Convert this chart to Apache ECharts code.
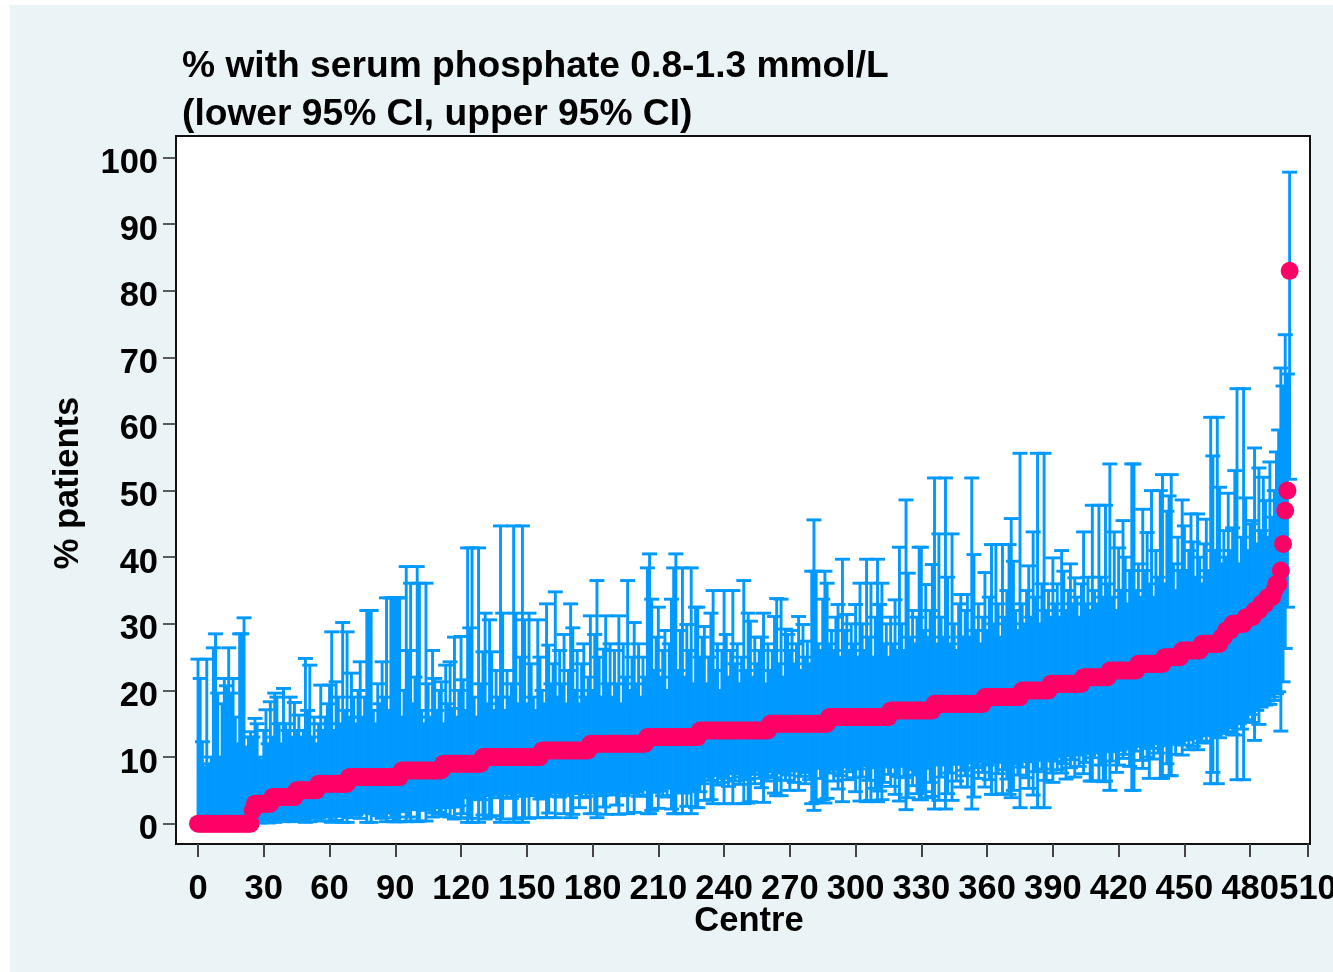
<!DOCTYPE html>
<html>
<head>
<meta charset="utf-8">
<title>Serum phosphate by centre</title>
<script src="https://cdn.jsdelivr.net/npm/echarts@6/dist/echarts.min.js"></script>
<style>
    html, body { margin: 0; padding: 0; background: #ffffff; overflow: hidden; }
    #panel { position: absolute; left: 10px; top: 5px; width: 1323px; height: 967px; background: #eaf4f6; }
    #chart { position: absolute; left: 0; top: 0; width: 1333px; height: 972px; }
</style>
</head>
<body>
<div id="panel"></div>
<div id="chart"></div>
<script>
// Values, one entry per centre, ten per line
const median = [
    0,0,0,0,0,0,0,0,0,0,
    0,0,0,0,0,0,0,0,0,0,
    0,0,0,0,0,2,3,3,3,3,
    3,3,3,3,4,4,4,4,4,4,
    4,4,4,4,4,5,5,5,5,5,
    5,5,5,5,5,6,6,6,6,6,
    6,6,6,6,6,6,6,6,6,7,
    7,7,7,7,7,7,7,7,7,7,
    7,7,7,7,7,7,7,7,7,7,
    7,7,7,8,8,8,8,8,8,8,
    8,8,8,8,8,8,8,8,8,8,
    8,8,9,9,9,9,9,9,9,9,
    9,9,9,9,9,9,9,9,9,9,
    10,10,10,10,10,10,10,10,10,10,
    10,10,10,10,10,10,10,10,10,10,
    10,10,10,10,10,10,10,11,11,11,
    11,11,11,11,11,11,11,11,11,11,
    11,11,11,11,11,11,11,11,11,12,
    12,12,12,12,12,12,12,12,12,12,
    12,12,12,12,12,12,12,12,12,12,
    12,12,12,12,12,13,13,13,13,13,
    13,13,13,13,13,13,13,13,13,13,
    13,13,13,13,13,13,13,13,13,14,
    14,14,14,14,14,14,14,14,14,14,
    14,14,14,14,14,14,14,14,14,14,
    14,14,14,14,14,14,14,14,14,14,
    14,15,15,15,15,15,15,15,15,15,
    15,15,15,15,15,15,15,15,15,15,
    15,15,15,15,15,15,15,15,16,16,
    16,16,16,16,16,16,16,16,16,16,
    16,16,16,16,16,16,16,16,16,16,
    16,16,16,16,16,16,17,17,17,17,
    17,17,17,17,17,17,17,17,17,17,
    17,17,17,17,17,17,18,18,18,18,
    18,18,18,18,18,18,18,18,18,18,
    18,18,18,18,18,18,18,18,18,19,
    19,19,19,19,19,19,19,19,19,19,
    19,19,19,19,19,19,20,20,20,20,
    20,20,20,20,20,20,20,20,20,21,
    21,21,21,21,21,21,21,21,21,21,
    21,21,21,21,22,22,22,22,22,22,
    22,22,22,22,22,22,23,23,23,23,
    23,23,23,23,23,23,23,23,23,24,
    24,24,24,24,24,24,24,24,24,24,
    24,25,25,25,25,25,25,25,25,26,
    26,26,26,26,26,26,26,26,27,27,
    27,27,27,27,27,27,27,28,28,29,
    29,29,30,30,30,30,30,30,31,31,
    31,31,32,32,32,33,33,33,34,34,
    34,35,36,36,38,42,47,50,83
];

const upper = [
    24.7,21.8,12.3,8.5,24.7,9,10,26.4,28.5,19.6,
    10,18,21.8,20.7,26.4,19.6,21.8,16,12,28.5,
    28.5,30.9,11.5,13,13.8,13,15.8,15,10,9.5,
    14,17.1,12,18.3,13,19.6,19,15,12,20.3,
    15,14,19,13,18.2,14,16.3,13,14,24.8,
    17,23.8,13,16,12,15,20.8,14,16,18,
    20.8,28.8,14,21.3,19,15,30.2,17,28.8,16,
    22.6,19,15,20,24.3,16,19,32,32,32,
    17,15,21,18,24.3,19,33.9,17,33.9,33.9,
    33.9,33.9,33.9,16,20,38.6,26,36.1,18,22,
    38.6,36.1,17,15,36.1,21,16,26,21.8,17,
    20,21.3,15,23.8,18,24.3,17.3,28,16,20,
    28.1,21.6,17,41.4,29.4,41.4,19,16,41.4,21,
    25.8,31.6,18,30.6,25.8,17,23,19,44.7,31.6,
    17,23,19,21,44.7,31.6,18,25,44.7,30.6,
    18,31.6,24,19,17,30.6,25,20,18,33,
    26.8,21,24,34.8,19,26,21,28.4,18,23,
    33,29.4,20,26,18,24,27,19,22,31.2,
    20,28.4,36.5,25,19,26.2,31.2,21,27,19,
    26,21,31.2,18,27,22,36.5,20,25,30.2,
    21,27,19,25,22,38.4,40.5,33.7,23,28,
    32.5,22,26,29,20,27,33.7,38.4,40.5,23,
    29,38.4,22,29.9,26,38.4,21,32.5,32.5,25,
    28,29.6,21,25,31.6,35,23,27,20,26,
    35,28.4,22,26,35,24,27,21,25,36.5,
    23,31.6,30.4,22,28,24,26,28,31.6,21,
    27,23,26,31.1,33.8,24,33.7,22,29.2,28.4,
    26,29,24,27,31.1,23,29.9,25,27.4,24,
    37.9,45.6,37.9,27,26,33.7,37.9,36.1,27,29,
    26,31,32.9,25,39.7,29,31.4,26,30,27,
    32.9,25,36.1,30,26,39.7,28,36.1,25,31,
    39.7,32.9,36.1,27,30,25,31,27,33.6,26,
    41.5,30,26,48.6,37.6,28,32,27,31,41.5,
    41.5,29,35.9,28,32,38.9,51.9,27,43.5,31,
    28,51.9,37,27,43.5,30,26,33,34.4,28,
    32,34.4,28,51.9,40.4,29,33,27,31,37.7,
    29,34,41.9,30,41.9,33,28,41.9,31,35,
    41.9,45.8,39.4,32,29,55.6,33,30,35,38.7,
    31,43.8,34,55.6,30,36,55.6,32,35,31,
    39.9,33,36,31,41,37.9,32,35,39,33,
    36.9,34,31,36,43.8,33,37,32,47.8,35,
    33,47.8,37,34,47.8,36,54,34,43.8,32,
    41.4,35,45.5,40,33,38,54,54,35,39,
    34,47.2,38,43.7,36,50,34,41,37,50,
    52.4,36,46.9,49.2,52.4,39,35,43,38,48.6,
    44.7,38,41,46.5,42.3,37,46.5,40,36,42,
    45.7,38,61,55.2,41,61,50.5,39,44,40,
    49.6,41,44.4,53,65.3,39,43,65.3,48.9,41,
    45,45.5,56.4,42,53.4,44,52,48.5,43,54.3,
    46,50,55.8,59.1,68.4,65.7,73.4,67.5,97.8
];

const lower = [
    0,0,0,0,0,0,0,0,0,0,
    0,0,0,0,0,0,0,0,0,0,
    0,0,0,0,0,0.1,0.2,0.2,0.1,0.3,
    0.2,0.4,0.1,0.3,0.6,0.2,0.5,0.8,0.4,0.3,
    0.5,0.9,0.4,0.7,0.3,0.8,1,0.5,0.9,0.2,
    1.1,0.3,0.9,1.3,0.8,0.9,0.4,1.2,1.4,1,
    0.4,0.2,1.3,0.5,1.1,1.5,0.2,1.4,0.2,1.6,
    0.9,1.7,1.3,1.8,0.8,1.6,1.9,0.2,1.7,0.2,
    1.5,2,1.2,1.9,0.8,1.8,0.3,1.6,0.9,0.3,
    0.3,0.3,0.3,2,1.8,0.3,1,0.4,2.1,2.2,
    0.3,0.4,2.3,2,0.4,2.2,2.5,1,1.6,2.4,
    1.7,1.4,2.6,1.1,2.4,1,2.8,0.7,2.5,2.7,
    0.9,1.5,3.9,0.2,0.8,0.2,3.8,4.2,0.2,3.6,
    1.3,0.7,4.2,1,1.2,4.4,4.6,3.9,0.2,0.7,
    4.7,4,4.5,3.8,0.2,0.7,4.6,4.1,0.2,0.9,
    4.7,0.8,4.2,4.6,4.8,0.9,3.7,4,4.5,0.9,
    1.6,4.1,4.7,0.9,4.6,4,4.8,1.5,4.2,4.9,
    0.9,1.4,4.5,5,2.4,3.9,4.7,4.1,5.1,1.5,
    4.6,1.5,0.9,4.8,4.2,2.5,1.4,5,5.2,4.3,
    4.7,2.8,1.4,5.2,4.2,4.9,1.5,4.6,5.3,1.7,
    4.8,4.1,5.4,4.3,5.1,1.5,1.5,2,4.7,5.2,
    2.3,4.9,4.2,5.3,4,5.5,2.2,1.5,1.5,4.7,
    5.1,1.5,4.6,2.6,5.4,1.5,5,2.4,2.4,4.8,
    6,3.5,7,6.5,3.6,3,7.2,5.8,7.4,6.2,
    3,6.8,5.6,7.5,3,6.4,7.7,5.9,7,3,
    6.6,3.1,3.3,7.4,6,7.9,6.8,5.4,3.2,7.2,
    6.4,7.8,6.9,4.6,4.2,7.6,4.2,8,6.5,7.3,
    5,7.9,6.2,8,5,7.1,8.2,6,7.7,6.6,
    3,2,3.2,8.3,6.8,3.6,3.1,3.8,7.6,8.4,
    6.4,8.1,5.2,7.2,3.3,8.5,6.6,7.8,8.6,6.9,
    4.8,8.2,3.4,7,8.7,3.3,6.5,3.5,8.4,5.3,
    3.3,4.9,3.6,6.2,8.8,7.4,5.6,8.5,4.4,7.1,
    3.4,8.6,6.9,2.1,3.9,8.1,5.7,7.3,4.5,3.6,
    3.6,4.8,3.9,8.3,6.2,4.1,2.2,8.8,3.5,7,
    9,2.2,4.5,7.6,3.5,8.9,6.4,9.2,5.5,8,
    7.2,5.5,9.1,2.2,4,8.4,6.8,9.3,7.7,5.5,
    8.8,6.6,4.4,9.4,4.4,7.5,9.2,4.5,8.1,6.7,
    4.4,3.9,5,9,7.3,2.4,8.5,9.6,6.9,5.3,
    9.3,4.3,7.8,2.4,9.5,8.2,2.4,6.5,9.8,7.6,
    6.2,9.4,8.1,10,7.6,9,6.7,10.2,8.4,9.6,
    7,10.3,8.6,10.5,7.5,9.2,10.7,6.4,6.4,9.9,
    10.6,6.4,8.8,6.3,6.4,10.8,5,9.4,11,7.7,
    8.8,11.2,9.8,10.4,11.4,8.6,5,5,10.9,11.6,
    9.5,8.3,11.8,10,6.8,11.3,9.7,12,10.6,6.8,
    6.8,11.7,9,7.2,7.2,12.2,10.4,11.9,12.5,10.3,
    11.8,12.6,11.1,13,11.6,12.8,11.1,13.2,12.1,13.4,
    12.4,13.6,6,7.7,13.2,6,12.9,14,13.5,14.4,
    13.8,14.8,13.4,13.3,6.6,15,14.2,6.6,15.6,15.5,
    16.4,15.2,12.5,17,14.9,17.5,18,17.8,18.4,17.9,
    19,18.5,19.5,19.8,13.9,21.3,26.3,32.5,51.7
];

// The last tick is labelled 510 but sits just inside the right edge of the frame
const xTicks = [0,30,60,90,120,150,180,210,240,270,300,330,360,390,420,450,480,506.4];
const xTickLabels = ['0','30','60','90','120','150','180','210','240','270','300','330','360','390','420','450','480','510'];
const yTicks = [0,10,20,30,40,50,60,70,80,90,100];

const FONT = '"Liberation Sans", Arial, sans-serif';
const BLUE = '#0099ff';
const PINK = '#ff0066';
const CAP = 7.5; // half width of the whisker caps, pixels

const chart = echarts.init(document.getElementById('chart'));

// One vertical whisker with a cap at both ends
function renderWhisker(params, api) {
    const lo = api.coord([api.value(0), api.value(1)]);
    const hi = api.coord([api.value(0), api.value(2)]);
    const style = { stroke: BLUE, lineWidth: 2.9, fill: null };
    return {
        type: 'group',
        children: [
            { type: 'line', shape: { x1: lo[0], y1: lo[1], x2: hi[0], y2: hi[1] }, style: style },
            { type: 'line', shape: { x1: lo[0] - CAP, y1: lo[1], x2: lo[0] + CAP, y2: lo[1] }, style: style },
            { type: 'line', shape: { x1: hi[0] - CAP, y1: hi[1], x2: hi[0] + CAP, y2: hi[1] }, style: style }
        ]
    };
}

chart.setOption({
    animation: false,
    title: {
        text: '% with serum phosphate 0.8-1.3 mmol/L\n(lower 95% CI, upper 95% CI)',
        left: 182,
        top: 43,
        padding: 0,
        textStyle: { fontFamily: FONT, fontWeight: 'bold', fontSize: 37.2, lineHeight: 48, color: '#000' }
    },
    grid: {
        left: 176, top: 136, width: 1134, height: 708,
        outerBoundsMode: 'none',
        show: true, backgroundColor: '#ffffff', borderColor: '#111', borderWidth: 2
    },
    xAxis: {
        type: 'value',
        min: -10.04,
        max: 507.3,
        name: 'Centre',
        nameLocation: 'middle',
        nameGap: 60,
        nameMoveOverlap: false,
        nameTextStyle: { fontFamily: FONT, fontWeight: 'bold', fontSize: 34.5, color: '#000', padding: [0, 0, 0, 12] },
        splitLine: { show: false },
        axisLine: { show: false, onZero: false },
        axisTick: { length: 13, lineStyle: { color: '#444', width: 2 }, customValues: xTicks },
        axisLabel: {
            customValues: xTicks,
            formatter: v => xTickLabels[xTicks.indexOf(v)],
            fontFamily: FONT, fontWeight: 'bold', fontSize: 34.5, color: '#000', margin: 28
        }
    },
    yAxis: {
        type: 'value',
        min: -3.05,
        max: 103.23,
        name: '% patients',
        nameLocation: 'middle',
        nameGap: 90,
        nameMoveOverlap: false,
        nameTextStyle: { fontFamily: FONT, fontWeight: 'bold', fontSize: 34.5, color: '#000', padding: [0, 0, 0, 14] },
        splitLine: { show: false },
        axisLine: { show: false, onZero: false },
        axisTick: { length: 13, lineStyle: { color: '#333', width: 1.6 }, customValues: yTicks },
        axisLabel: {
            customValues: yTicks,
            fontFamily: FONT, fontWeight: 'bold', fontSize: 34.5, color: '#000', margin: 18,
            verticalAlign: 'top', lineHeight: 12
        }
    },
    series: [
        {
            name: 'CI',
            type: 'custom',
            renderItem: renderWhisker,
            progressive: 0,
            encode: { x: 0, y: [1, 2] },
            data: median.map((_, i) => [i, lower[i], upper[i]]),
            z: 2
        },
        {
            name: '% patients',
            type: 'scatter',
            symbol: 'circle',
            symbolSize: 18,
            progressive: 0,
            itemStyle: { color: PINK, opacity: 1 },
            data: median.map((m, i) => [i, m]),
            z: 3
        }
    ]
});
</script>
</body>
</html>
